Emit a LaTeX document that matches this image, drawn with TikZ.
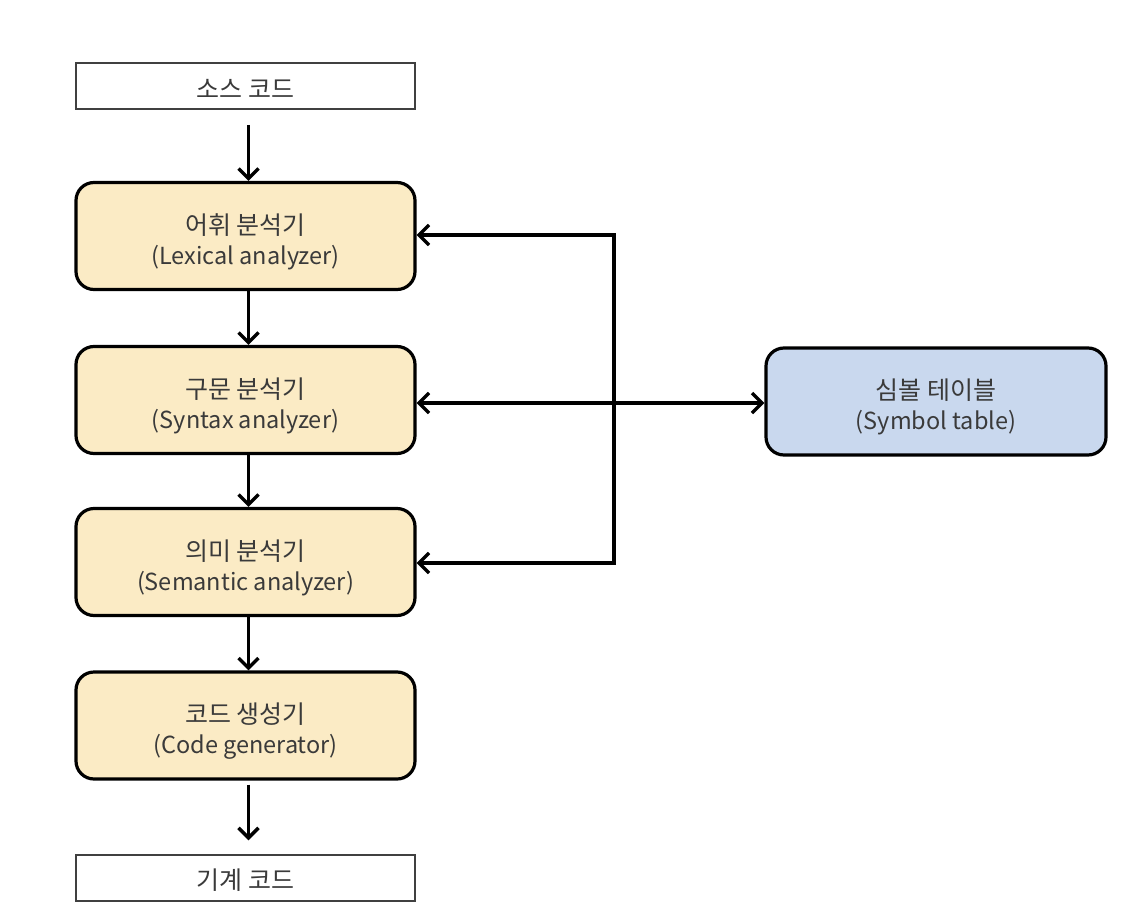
\documentclass[tikz,border=0pt]{standalone}
\usepackage{fontspec}
\setmainfont{Noto Sans CJK KR}
\usetikzlibrary{arrows.meta,calc}
\definecolor{stagefill}{HTML}{FBEBC5}
\definecolor{tablefill}{HTML}{C9D8EE}
\definecolor{labeltext}{HTML}{3A3A3A}
\tikzset{barb/.tip={Straight Barb[length=10pt,width=20pt,line width=3.4pt]}}
% two-line stage label: Korean title over English subtitle
\newcommand\stagelabel[2]{\rule{0pt}{32pt}#1\\\fontsize{23.5}{30}\selectfont #2}
\begin{document}
\begin{tikzpicture}[x=1pt,y=-1pt,
  every node/.style={font=\fontsize{25}{30}\selectfont, text=labeltext, align=center, inner sep=0pt},
  iobox/.style={draw=black!75, line width=1.5pt, minimum width=339pt, minimum height=46pt},
  stagebox/.style={draw=black, line width=3.2pt, rounded corners=18pt, fill=stagefill, minimum width=339pt, minimum height=107pt},
  tablebox/.style={stagebox, fill=tablefill, minimum width=340pt},
  flow/.style={line width=3.4pt, -{barb}},
  link/.style={line width=3.4pt, {barb}-{barb}}
]
\useasboundingbox (0,0) rectangle (1130,910);
% main pipeline
\node[iobox] (src) at (245.5,86) {\rule{0pt}{24pt}소스 코드};
\node[stagebox] (lex) at (245.5,236) {\stagelabel{어휘 분석기}{(Lexical analyzer)}};
\node[stagebox] (syn) at (245.5,400) {\stagelabel{구문 분석기}{(Syntax analyzer)}};
\node[stagebox] (sem) at (245.5,562) {\stagelabel{의미 분석기}{(Semantic analyzer)}};
\node[stagebox] (gen) at (245.5,725.5) {\stagelabel{코드 생성기}{(Code generator)}};
\node[iobox] (out) at (245.5,878) {\rule{0pt}{24pt}기계 코드};
\node[tablebox] (sym) at (936,401.5) {\stagelabel{심볼 테이블}{(Symbol table)}};

\draw[flow] ($(src.south)+(3,15)$) -- ($(lex.north)+(3,0)$);
\draw[flow] ($(lex.south)+(3,0)$) -- ($(syn.north)+(3,0)$);
\draw[flow] ($(syn.south)+(3,0)$) -- ($(sem.north)+(3,0)$);
\draw[flow] ($(sem.south)+(3,0)$) -- ($(gen.north)+(3,0)$);
\draw[flow] ($(gen.south)+(3,4)$) -- ($(out.north)+(3,-14)$);

% symbol table connections
\coordinate (bus top) at (614,235);
\coordinate (bus bottom) at (614,563);
\draw[flow] (bus top) -- (lex.east |- bus top);
\draw[line width=3.4pt, line cap=rect] (bus top) -- (bus bottom);
\draw[flow] (bus bottom) -- (sem.east |- bus bottom);
\draw[link] (syn.east |- 0,403) -- (sym.west |- 0,403);
\end{tikzpicture}
\end{document}
